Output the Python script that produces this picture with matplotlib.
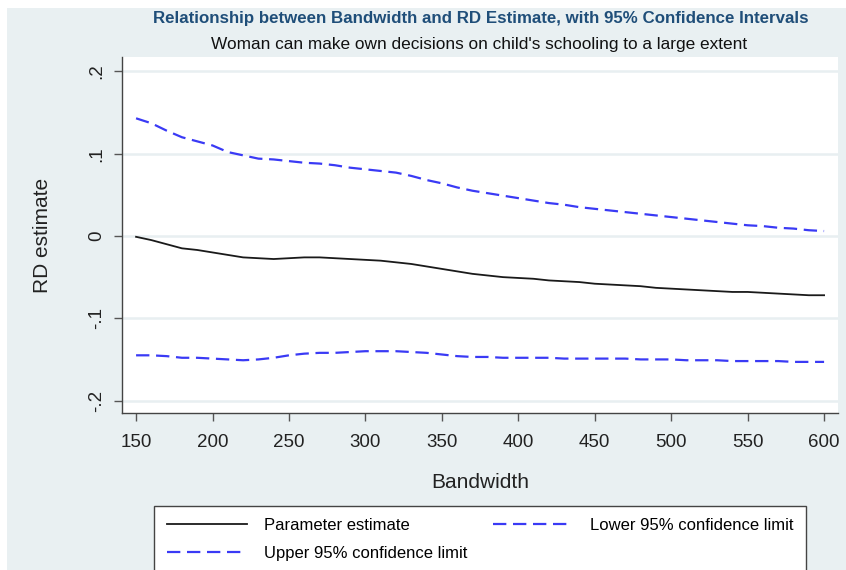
import numpy as np
import matplotlib.pyplot as plt
from matplotlib.patches import Rectangle

plt.rcParams['font.family'] = ['Liberation Sans', 'DejaVu Sans']

# bandwidths used for the sensitivity check
bandwidth = np.arange(150, 601, 10)

estimate = [-0.001, -0.005, -0.010, -0.015, -0.017, -0.020, -0.023, -0.026, -0.027, -0.028,
            -0.027, -0.026, -0.026, -0.027, -0.028, -0.029, -0.030, -0.032, -0.034, -0.037,
            -0.040, -0.043, -0.046, -0.048, -0.050, -0.051, -0.052, -0.054, -0.055, -0.056,
            -0.058, -0.059, -0.060, -0.061, -0.063, -0.064, -0.065, -0.066, -0.067, -0.068,
            -0.068, -0.069, -0.070, -0.071, -0.072, -0.072]

upper = [0.143, 0.137, 0.128, 0.120, 0.115, 0.110, 0.102, 0.098, 0.094, 0.093,
         0.091, 0.089, 0.088, 0.086, 0.083, 0.081, 0.079, 0.077, 0.073, 0.068,
         0.064, 0.059, 0.055, 0.052, 0.049, 0.046, 0.043, 0.040, 0.038, 0.035,
         0.033, 0.031, 0.029, 0.027, 0.025, 0.023, 0.021, 0.019, 0.017, 0.015,
         0.013, 0.012, 0.010, 0.009, 0.007, 0.006]

lower = [-0.145, -0.145, -0.146, -0.148, -0.148, -0.149, -0.150, -0.151, -0.150, -0.148,
         -0.145, -0.143, -0.142, -0.142, -0.141, -0.140, -0.140, -0.140, -0.141, -0.142,
         -0.144, -0.146, -0.147, -0.147, -0.148, -0.148, -0.148, -0.148, -0.149, -0.149,
         -0.149, -0.149, -0.149, -0.150, -0.150, -0.150, -0.151, -0.151, -0.151, -0.152,
         -0.152, -0.152, -0.152, -0.153, -0.153, -0.153]

xticks = [150, 200, 250, 300, 350, 400, 450, 500, 550, 600]
yticks = [-0.2, -0.1, 0.0, 0.1, 0.2]
ytick_labels = ['-.2', '-.1', '0', '.1', '.2']

bg = '#E9F0F2'
blue = '#3A3AF5'

fig = plt.figure(figsize=(8.46, 5.70), dpi=100, facecolor='white')
# graph region
fig.patches.append(Rectangle((7 / 846, 0), 1, 562 / 570, transform=fig.transFigure,
                             facecolor=bg, edgecolor='none', zorder=-10))

ax = fig.add_axes([122 / 846, 1 - 413 / 570, 716 / 846, 356 / 570])
ax.set_facecolor('white')

ax.plot(bandwidth, estimate, color='#1a1a1a', lw=1.3, label='Parameter estimate')
ax.plot(bandwidth, upper, color=blue, lw=1.6, dashes=(6, 3), label='Upper 95% confidence limit')
ax.plot(bandwidth, lower, color=blue, lw=1.6, dashes=(6, 3), label='Lower 95% confidence limit')

ax.set_xlim(140.8, 609.1)
ax.set_ylim(-0.2151, 0.2175)
ax.set_xticks(xticks)
ax.set_yticks(yticks)
ax.set_yticklabels(ytick_labels, rotation=90, va='center')
ax.yaxis.grid(True, color='#E8EFF1', lw=1.8)
ax.set_axisbelow(True)

for side in ['top', 'right']:
    ax.spines[side].set_visible(False)
for side in ['left', 'bottom']:
    ax.spines[side].set_color('#444444')
    ax.spines[side].set_linewidth(1.0)
ax.tick_params(direction='out', length=6, width=1, color='#555555', labelsize=13.5,
               labelcolor='#222222')
ax.tick_params(axis='x', pad=9)
ax.tick_params(axis='y', pad=6)

ax.set_xlabel('Bandwidth', fontsize=15, color='#222222', labelpad=16)
ax.set_ylabel('RD estimate', fontsize=15, color='#222222', labelpad=26)

fig.text(481 / 846, 1 - 19 / 570, 'Relationship between Bandwidth and RD Estimate, with 95% Confidence Intervals',
         ha='center', va='center', fontsize=12.2, fontweight='bold', color='#1F4E79')
fig.text(479 / 846, 1 - 45 / 570, "Woman can make own decisions on child's schooling to a large extent",
         ha='center', va='center', fontsize=12.4, color='#111111')

handles, labels = ax.get_legend_handles_labels()
leg = fig.legend(handles, labels, ncol=2,
                 loc='upper left', bbox_to_anchor=(146 / 846, 1 - 503 / 570, 668 / 846, 0.01),
                 mode='expand', fontsize=12, frameon=True, fancybox=False, framealpha=1,
                 handlelength=4.8, handletextpad=1.0, labelspacing=0.75, borderpad=0.75,
                 columnspacing=2.0)
leg.get_frame().set_edgecolor('#444444')
leg.get_frame().set_linewidth(1.0)
leg.get_frame().set_facecolor('white')

fig.savefig('out.png', dpi=100, facecolor=fig.get_facecolor())
